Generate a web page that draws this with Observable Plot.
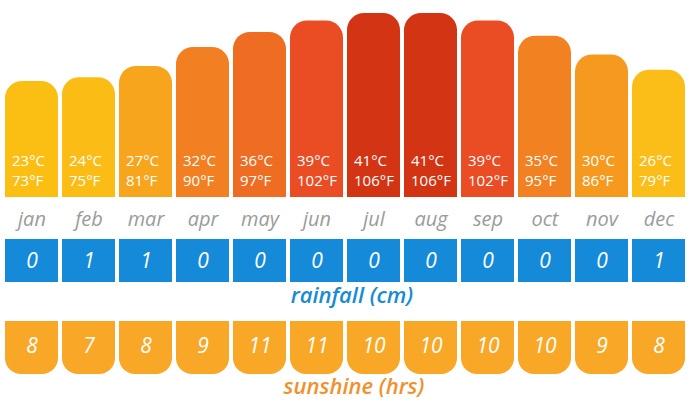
<!DOCTYPE html>
<html>
<head>
<meta charset="utf-8">
<script src="https://cdn.jsdelivr.net/npm/d3@7"></script>
<script src="https://cdn.jsdelivr.net/npm/@observablehq/plot@0.6"></script>
<style>
  html, body { margin: 0; padding: 0; background: #fff; }
  #chart svg { display: block; }
</style>
</head>
<body>
<div id="chart"></div>
<script>
const months = ["jan","feb","mar","apr","may","jun","jul","aug","sep","oct","nov","dec"];
const tempC = [23, 24, 27, 32, 36, 39, 41, 41, 39, 35, 30, 26];
const tempF = [73, 75, 81, 90, 97, 102, 106, 106, 102, 95, 86, 79];
const rainfall = [0, 1, 1, 0, 0, 0, 0, 0, 0, 0, 0, 1];
const sunshine = [8, 7, 8, 9, 11, 11, 10, 10, 10, 10, 9, 8];
const barColors = ["#fbbf14","#fbbc16","#f8a51e","#f27f22","#ef6c23","#ea4c24","#d33514","#d33514","#ea4c24","#f28221","#f59a1f","#fbbd17"];

const data = months.map((m, i) => ({month: m, c: tempC[i], f: tempF[i], rain: rainfall[i], sun: sunshine[i], color: barColors[i]}));

const base = -7.7;
const font = "'Open Sans', sans-serif";
const xScale = {domain: months, range: [5, 686], paddingInner: 0.07, paddingOuter: 0, label: null};

const temp = Plot.plot({
  width: 689, height: 235,
  marginTop: 0, marginBottom: 38, marginLeft: 0, marginRight: 0,
  style: {fontFamily: font, background: "#fff"},
  x: xScale,
  y: {domain: [base, 41], range: [197, 13], axis: null},
  marks: [
    Plot.barY(data, {x: "month", y1: base, y2: "c", fill: "color", rx: 17}),
    Plot.barY(data, {x: "month", y1: base, y2: d => d.c - 6, fill: "color"}),
    Plot.text(data, {x: "month", text: d => `${d.c}°C\n${d.f}°F`, frameAnchor: "bottom", textAnchor: "start", lineAnchor: "middle", lineHeight: 1.38, dx: -20, dy: -28, fill: "white", fontSize: 15}),
    Plot.axisX({tickSize: 0, tickPadding: 14, fontSize: 20, fontStyle: "italic", fill: "#9b9b9b", fontFamily: font})
  ]
});

const rain = Plot.plot({
  width: 689, height: 85,
  marginTop: 4, marginBottom: 38, marginLeft: 0, marginRight: 0,
  style: {fontFamily: font, background: "#fff"},
  x: {...xScale, axis: null},
  marks: [
    Plot.cell(data, {x: "month", fill: "#148ad8"}),
    Plot.text(data, {x: "month", text: "rain", fill: "white", fontSize: 21, fontStyle: "italic", fontWeight: 500}),
    Plot.text(["rainfall (cm)"], {frameAnchor: "bottom", dx: 7, dy: 20, fill: "#1a8ad4", fontSize: 22, fontStyle: "italic", fontWeight: 600})
  ]
});

const sun = Plot.plot({
  width: 689, height: 85,
  marginTop: 1, marginBottom: 31, marginLeft: 0, marginRight: 0,
  style: {fontFamily: font, background: "#fff"},
  x: {...xScale, axis: null},
  marks: [
    Plot.cell(data, {x: "month", fill: "#f8a826", rx: 16}),
    Plot.cell(data, {x: "month", fill: "#f8a826", insetBottom: 25}),
    Plot.text(data, {x: "month", text: "sun", fill: "white", fontSize: 21, fontStyle: "italic", fontWeight: 500, dy: -2}),
    Plot.text(["sunshine (hrs)"], {frameAnchor: "bottom", dx: 9, dy: 19, fill: "#f0912e", fontSize: 22, fontStyle: "italic", fontWeight: 600})
  ]
});

const root = document.getElementById("chart");
root.append(temp, rain, sun);
</script>
</body>
</html>
